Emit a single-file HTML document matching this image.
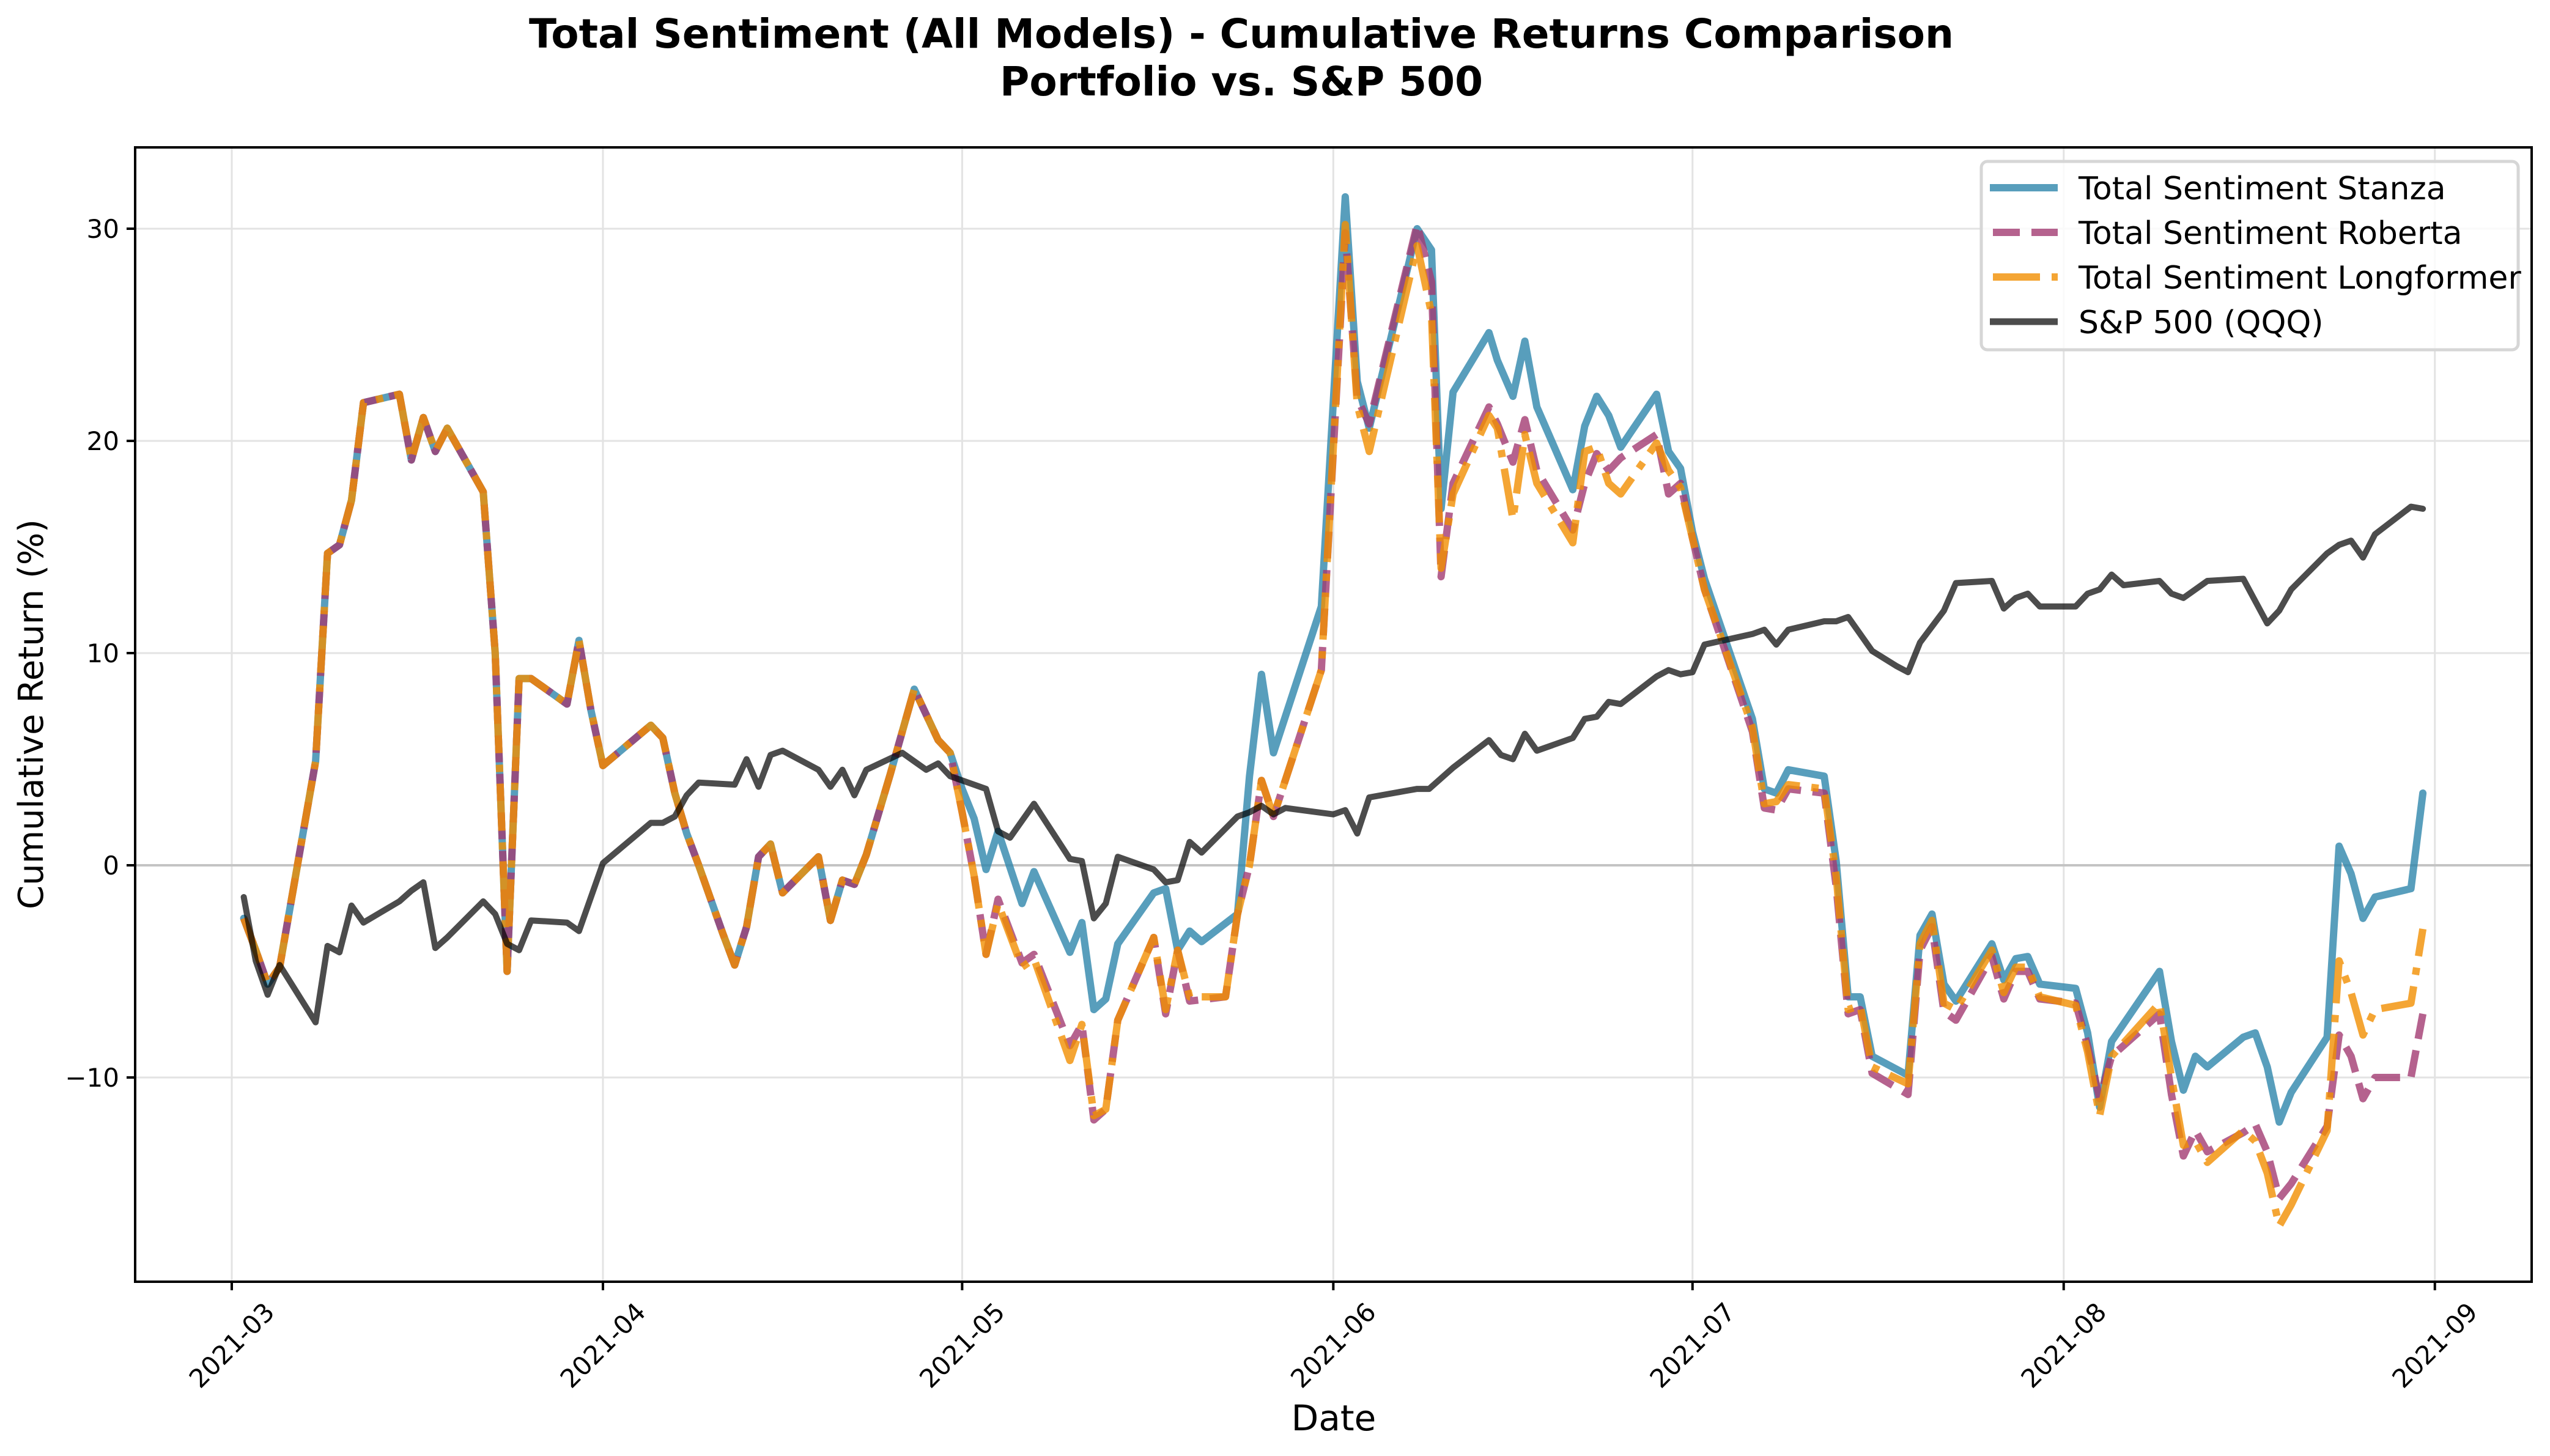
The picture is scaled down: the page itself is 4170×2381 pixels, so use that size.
<!DOCTYPE html>
<html><head><meta charset="utf-8"><style>
html,body{margin:0;padding:0;background:#fff;}
svg{display:block;font-family:"DejaVu Sans","Liberation Sans",sans-serif;}
</style></head><body>
<svg id="chart" width="4170" height="2381" viewBox="0 0 4170 2381">
<rect x="0" y="0" width="4170" height="2381" fill="#fff"/>
<text x="2030" y="78" font-size="66" font-weight="bold" text-anchor="middle">Total Sentiment (All Models) - Cumulative Returns Comparison</text>
<text x="2030" y="156" font-size="66" font-weight="bold" text-anchor="middle">Portfolio vs. S&amp;P 500</text>
<g id="grid"></g>
<g id="series"></g>
<g id="axes"></g>
<text x="2181" y="2339" font-size="58" text-anchor="middle">Date</text>
<text x="0" y="0" font-size="56" text-anchor="middle" transform="translate(70,1168) rotate(-90)">Cumulative Return (%)</text>
<g id="legend">
<rect x="3240" y="264" width="878" height="308" rx="10" fill="#fff" fill-opacity="0.8" stroke="#d6d6d6" stroke-width="5"/>
<line x1="3254" y1="307" x2="3365" y2="307" stroke="#2E86AB" stroke-opacity="0.8" stroke-width="12"/>
<text x="3399" y="326" font-size="52">Total Sentiment Stanza</text>
<line x1="3259" y1="380" x2="3365" y2="380" stroke="#A23B72" stroke-opacity="0.8" stroke-width="12" stroke-dasharray="44 19"/>
<text x="3399" y="399" font-size="52">Total Sentiment Roberta</text>
<line x1="3259" y1="453" x2="3365" y2="453" stroke="#F18F01" stroke-opacity="0.8" stroke-width="12" stroke-dasharray="77 19 12 19"/>
<text x="3399" y="472" font-size="52">Total Sentiment Longformer</text>
<line x1="3254" y1="526" x2="3365" y2="526" stroke="#000" stroke-opacity="0.7" stroke-width="11"/>
<text x="3399" y="545" font-size="52">S&amp;P 500 (QQQ)</text>
</g>
</svg>
<script>
// Data (days since 2021-03-01, cumulative return %)
const xTickLabels = ["2021-03","2021-04","2021-05","2021-06","2021-07","2021-08","2021-09"];
const xTickDays = [0,31,61,92,122,153,184];
const yTicks = [-10,0,10,20,30];

const stanzaDays = [1,2,3,4,7,8,9,10,11,14,15,16,17,18,21,22,23,24,25,28,29,30,31,35,36,37,38,39,41,42,43,44,45,46,49,50,51,52,53,55,57,59,60,61,62,63,64,66,67,70,71,72,73,74,77,78,79,80,81,84,85,86,87,91,93,94,95,99,100.2,101,102,105,105.7,107,108,109,112,113,114,115,116,119,120,121,122,123,127,128,129,130,133,134,135,136,137,140,141,142,143,144,147,148,149,150,151,154,155,156,157,161,162,163,164,165,168,169,170,171,172,175,176,177,178,179,182,183];
const stanzaVals = [-2.5,-4.0,-5.6,-4.8,4.9,14.7,15.1,17.2,21.8,22.2,19.1,21.1,19.5,20.6,17.6,10.0,-5.0,8.8,8.8,7.6,10.6,7.3,4.7,6.6,6.0,3.4,1.5,0.0,-3.2,-4.7,-2.9,0.4,1.0,-1.3,0.4,-2.6,-0.7,-0.9,0.5,4.3,8.3,5.9,5.3,3.6,2.2,-0.2,1.6,-1.8,-0.3,-4.1,-2.7,-6.8,-6.3,-3.7,-1.3,-1.1,-4.0,-3.1,-3.6,-2.3,4.2,9.0,5.3,12.2,31.5,22.8,20.6,30.0,29.0,16.8,22.3,25.1,23.8,22.1,24.7,21.6,17.7,20.7,22.1,21.2,19.7,22.2,19.5,18.7,15.7,13.5,6.9,3.6,3.4,4.5,4.2,0.2,-6.2,-6.2,-9.0,-9.9,-3.3,-2.3,-5.6,-6.4,-3.7,-5.4,-4.4,-4.3,-5.6,-5.8,-7.9,-11.4,-8.3,-5.0,-8.3,-10.6,-9.0,-9.5,-8.1,-7.9,-9.5,-12.1,-10.7,-8.1,0.9,-0.4,-2.5,-1.5,-1.1,3.4];

const robertaDays = [1,2,3,4,7,8,9,10,11,14,15,16,17,18,21,22,23,24,25,28,29,30,31,35,36,37,38,39,41,42,43,44,45,46,49,50,51,52,53,55,57,59,60,61,62,63,64,66,67,70,71,72,73,74,77,78,79,80,83,84,85,86,87,91,93,94,95,99,100.2,101,102,105,105.7,107,108,109,112,113,114,115,116,119,120,121,122,123,127,128,129,130,133,134,135,136,137,140,141,142,143,144,147,148,149,150,151,154,155,156,157,161,162,163,164,165,168,169,170,171,172,175,176,177,178,179,182,183];
const robertaVals = [-2.5,-4.0,-5.6,-4.8,4.9,14.7,15.1,17.2,21.8,22.2,19.1,21.1,19.5,20.6,17.6,10.0,-5.0,8.8,8.8,7.6,10.6,7.3,4.7,6.6,6.0,3.4,1.5,0.0,-3.2,-4.7,-2.9,0.4,1.0,-1.3,0.4,-2.6,-0.7,-0.9,0.5,4.3,8.3,5.9,5.3,2.5,-0.5,-4.2,-1.6,-4.6,-4.2,-8.5,-7.5,-12.0,-11.5,-7.3,-3.4,-7.0,-4.0,-6.4,-6.2,-2.3,0.0,4.0,2.3,9.2,29.8,22.0,20.8,30.2,27.5,13.6,18.0,21.6,20.8,19.0,21.0,18.6,15.8,18.0,19.4,18.6,19.2,20.3,17.5,18.0,15.4,13.0,6.3,2.7,2.6,3.6,3.4,-1.0,-7.0,-6.8,-9.8,-10.8,-4.0,-2.9,-6.9,-7.3,-4.3,-6.3,-5.0,-5.0,-6.3,-6.5,-8.5,-11.0,-9.0,-7.0,-10.8,-13.7,-12.5,-13.5,-12.6,-12.2,-13.5,-15.7,-15.0,-12.3,-8.0,-9.0,-11.0,-10.0,-10.0,-7.0];

const longformerDays = [1,2,3,4,7,8,9,10,11,14,15,16,17,18,21,22,23,24,25,28,29,30,31,35,36,37,38,39,41,42,43,44,45,46,49,50,51,52,53,55,57,59,60,61,62,63,64,66,67,70,71,72,73,74,77,78,79,80,83,84,85,86,87,91,93,94,95,99,100.2,101,102,105,105.7,107,108,109,112,113,114,115,116,119,120,121,122,123,127,128,129,130,133,134,135,136,137,140,141,142,143,144,147,148,149,150,151,154,155,156,157,161,162,163,164,165,168,169,170,171,172,175,176,177,178,179,182,183];
const longformerVals = [-2.5,-4.0,-5.6,-4.8,4.9,14.7,15.1,17.2,21.8,22.2,19.1,21.1,19.5,20.6,17.6,10.0,-5.0,8.8,8.8,7.6,10.6,7.3,4.7,6.6,6.0,3.4,1.5,0.0,-3.2,-4.7,-2.9,0.4,1.0,-1.3,0.4,-2.6,-0.7,-0.9,0.5,4.3,8.3,5.9,5.3,2.5,-0.5,-4.2,-1.8,-4.8,-4.4,-9.2,-7.5,-11.8,-11.5,-7.3,-3.4,-6.8,-4.0,-6.2,-6.2,-2.3,0.0,4.0,2.3,9.2,30.2,21.7,19.5,29.2,26.0,14.0,17.5,21.2,20.6,16.3,20.3,18.0,15.2,19.5,19.7,18.0,17.5,19.9,18.6,17.8,15.4,13.0,6.5,2.9,3.0,3.8,3.6,-0.5,-6.8,-6.6,-9.5,-10.3,-3.7,-2.6,-6.5,-6.8,-4.0,-6.0,-4.8,-4.8,-6.2,-6.6,-8.8,-11.8,-9.0,-6.5,-10.0,-13.2,-13.0,-14.0,-12.5,-13.0,-14.5,-17.0,-16.0,-12.5,-4.5,-6.0,-8.0,-6.8,-6.5,-3.0];

const qqqDays = [1,2,3,4,7,8,9,10,11,14,15,16,17,18,21,22,23,24,25,28,29,31,35,36,37,38,39,42,43,44,45,46,49,50,51,52,53,56,57,58,59,60,63,64,65,67,70,71,72,73,74,77,78,79,80,81,84,85,86,87,88,92,93,94,95,98,99,100,102,105,106,107,108,109,112,113,114,115,116,119,120,121,122,123,127,128,129,130,133,134,135,136,137,139,140,141,143,144,147,148,149,150,151,154,155,156,157,158,161,162,163,165,168,170,171,172,175,176,177,178,179,182,183];
const qqqVals = [-1.5,-4.5,-6.1,-4.7,-7.4,-3.8,-4.1,-1.9,-2.7,-1.7,-1.2,-0.8,-3.9,-3.4,-1.7,-2.3,-3.7,-4.0,-2.6,-2.7,-3.1,0.1,2.0,2.0,2.3,3.3,3.9,3.8,5.0,3.7,5.2,5.4,4.5,3.7,4.5,3.3,4.5,5.3,4.9,4.5,4.8,4.2,3.6,1.6,1.3,2.9,0.3,0.2,-2.5,-1.8,0.4,-0.2,-0.8,-0.7,1.1,0.6,2.3,2.5,2.8,2.4,2.7,2.4,2.6,1.5,3.2,3.5,3.6,3.6,4.6,5.9,5.2,5.0,6.2,5.4,6.0,6.9,7.0,7.7,7.6,8.9,9.2,9.0,9.1,10.4,10.9,11.1,10.4,11.1,11.5,11.5,11.7,10.9,10.1,9.4,9.1,10.5,12.0,13.3,13.4,12.1,12.6,12.8,12.2,12.2,12.8,13.0,13.7,13.2,13.4,12.8,12.6,13.4,13.5,11.4,12.0,13.0,14.7,15.1,15.3,14.5,15.6,16.9,16.8];

const L=221,R=4140,T=241,B=2096;
function xScale(d){return 379 + d*19.58;}
function yScale(v){return 1415 - v*34.7;}
const NS="http://www.w3.org/2000/svg";
function mk(tag,attrs,parent){const e=document.createElementNS(NS,tag);for(const k in attrs)e.setAttribute(k,attrs[k]);parent.appendChild(e);return e;}

const grid=document.getElementById('grid');
xTickDays.forEach(function(d,i){
  const gl=mk('line',{x1:xScale(d),x2:xScale(d),y1:T,y2:B,stroke:'#e3e3e3','stroke-width':3},grid);
  
  
});
yTicks.forEach(function(v){
  const gl=mk('line',{x1:L,x2:R,y1:yScale(v),y2:yScale(v),stroke:'#e3e3e3','stroke-width':3},grid);
  
  
});
const zl=mk('line',{x1:L,x2:R,y1:yScale(0),y2:yScale(0),stroke:'#c4c4c4','stroke-width':4},grid);



const series=document.getElementById('series');
function drawLine(days,vals,color,op,w,dash,name){
  let d='';
  for(let i=0;i<days.length;i++){d+=(i?'L':'M')+xScale(days[i]).toFixed(1)+','+yScale(vals[i]).toFixed(1);}
  const p=mk('path',{d:d,fill:'none',stroke:color,'stroke-opacity':op,'stroke-width':w,'stroke-linejoin':'round','stroke-linecap':dash?'butt':'round'},series);
  if(dash)p.setAttribute('stroke-dasharray',dash);
  
  
}
drawLine(stanzaDays,stanzaVals,'#2E86AB',0.8,12,null,'stanza-line');
drawLine(robertaDays,robertaVals,'#A23B72',0.8,12,'44 19','roberta-line');
drawLine(longformerDays,longformerVals,'#F18F01',0.8,12,'77 19 12 19','longformer-line');
drawLine(qqqDays,qqqVals,'#000',0.7,10,null,'qqq-line');

const axes=document.getElementById('axes');
const frame=mk('rect',{x:L,y:T,width:R-L,height:B-T,fill:'none',stroke:'#000','stroke-width':4},axes);


yTicks.forEach(function(v){
  const t=mk('line',{x1:L-14,x2:L,y1:yScale(v),y2:yScale(v),stroke:'#000','stroke-width':4},axes);
  
  
  const lb=mk('text',{x:L-26,y:yScale(v)+15,'font-size':42,'text-anchor':'end'},axes);
  lb.textContent=(v<0?'\u2212'+Math.abs(v):String(v));
  
  
});
xTickDays.forEach(function(d,i){
  const x=xScale(d);
  const t=mk('line',{x1:x,x2:x,y1:B,y2:B+14,stroke:'#000','stroke-width':4},axes);
  
  
  const lb=mk('text',{x:x,y:2200,'font-size':42,'text-anchor':'middle','dominant-baseline':'central',transform:'rotate(-45 '+x+' 2200)'},axes);
  lb.textContent=xTickLabels[i];
  
  
});
</script>
</body></html>
